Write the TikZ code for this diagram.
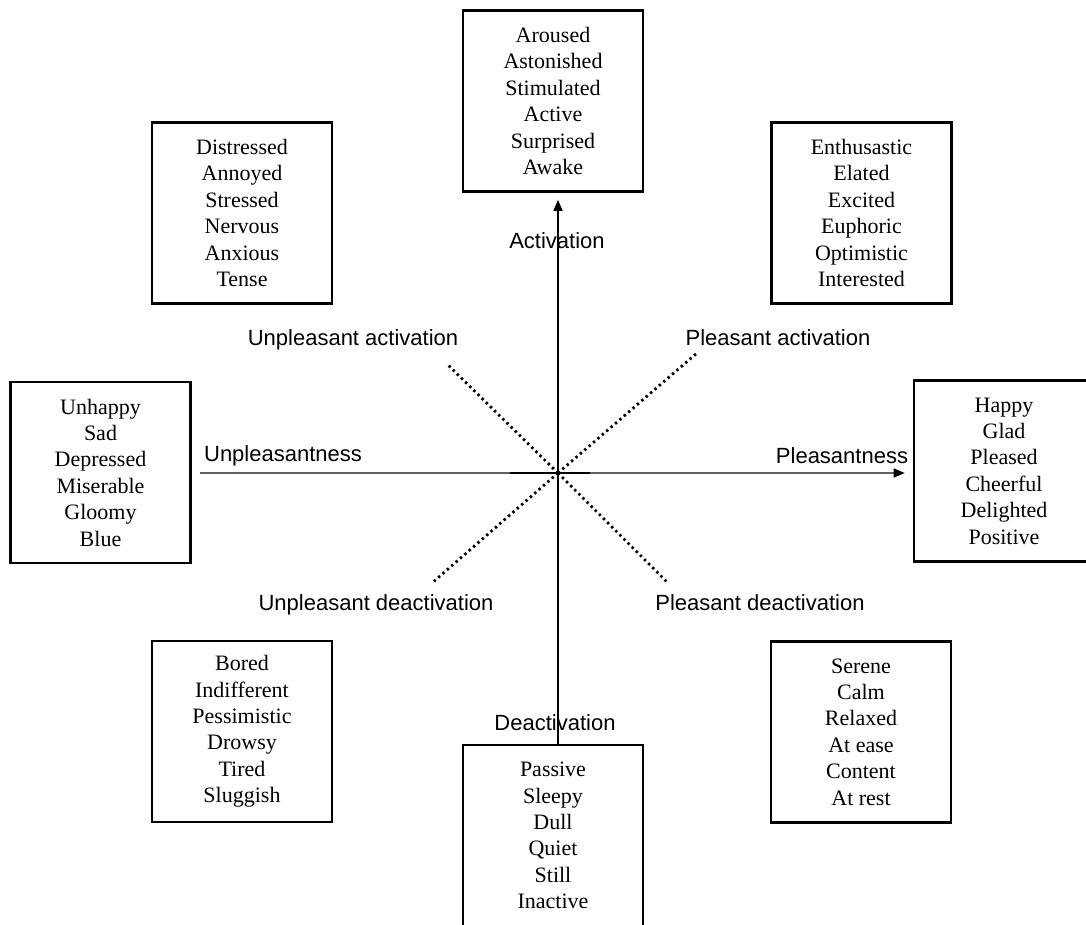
\documentclass[tikz,border=0pt]{standalone}
\usepackage{fontspec}
\setmainfont{Liberation Serif}
\setsansfont{Liberation Sans}
\usetikzlibrary{arrows.meta}
\begin{document}
\begin{tikzpicture}[x=1pt,y=-1pt,
  wordbox/.style={draw, line width=2.6pt, minimum width=180pt, minimum height=181pt,
    inner sep=0pt, align=center, font=\fontsize{22}{26.4}\selectfont},
  axislabel/.style={font=\sffamily\fontsize{22}{26}\selectfont, inner sep=0pt,
    text height=16pt, text depth=0pt},
  diag/.style={line width=2.8pt, dash pattern=on 2.4pt off 3.4pt},
  tip/.style={-{Triangle[length=11pt,width=9pt,color=black]}}]
\useasboundingbox (0,0) rectangle (1086,924);

% word boxes
\node[wordbox] (A)  at (553,101)   {Aroused\\Astonished\\Stimulated\\Active\\Surprised\\Awake};
\node[wordbox] (TL) at (242,213)   {Distressed\\Annoyed\\Stressed\\Nervous\\Anxious\\Tense};
\node[wordbox] (TR) at (861.5,213) {Enthusastic\\Elated\\Excited\\Euphoric\\Optimistic\\Interested};
\node[wordbox] (L)  at (100.5,472.5) {Unhappy\\Sad\\Depressed\\Miserable\\Gloomy\\Blue};
\node[wordbox] (R)  at (1004,471)  {Happy\\Glad\\Pleased\\Cheerful\\Delighted\\Positive};
\node[wordbox] (BL) at (242,731.5) {Bored\\Indifferent\\Pessimistic\\Drowsy\\Tired\\Sluggish};
\node[wordbox] (BR) at (861,732)   {Serene\\Calm\\Relaxed\\At ease\\Content\\At rest};
\node[wordbox] (B)  at (553,835.5) {Passive\\Sleepy\\Dull\\Quiet\\Still\\Inactive};

% centre and free ends of the axes
\coordinate (O) at (558,473);
\coordinate (hleft) at (200,473);
\coordinate (ua) at (448,365);
\coordinate (pa) at (697,353);
\coordinate (ud) at (432,583);
\coordinate (pd) at (668,583);

% main axes
\draw[gray!75!black, line width=1.5pt, tip, shorten >=8pt] (hleft) -- (R.west |- O);
\draw[line width=2.2pt] ([xshift=-48pt]O) -- ([xshift=32pt]O);
\draw[line width=1.4pt, tip, shorten >=7pt] (B.north -| O) -- (A.south -| O);

% diagonal axes
\draw[diag] (O) -- (ua);
\draw[diag] (O) -- (pa);
\draw[diag] (O) -- (ud);
\draw[diag] (O) -- (pd);

% axis labels
\node[axislabel] (lact)  at (557,240) {Activation};
\node[axislabel] (ldeac) at (555,722) {Deactivation};
\node[axislabel] (lunp)  at (283,453) {Unpleasantness};
\node[axislabel] (lple)  at (842,455) {Pleasantness};
\node[axislabel] (lua)   at (353,337) {Unpleasant activation};
\node[axislabel] (lpa)   at (778,337) {Pleasant activation};
\node[axislabel] (lud)   at (376,602) {Unpleasant deactivation};
\node[axislabel] (lpd)   at (760,602) {Pleasant deactivation};
\end{tikzpicture}
\end{document}
